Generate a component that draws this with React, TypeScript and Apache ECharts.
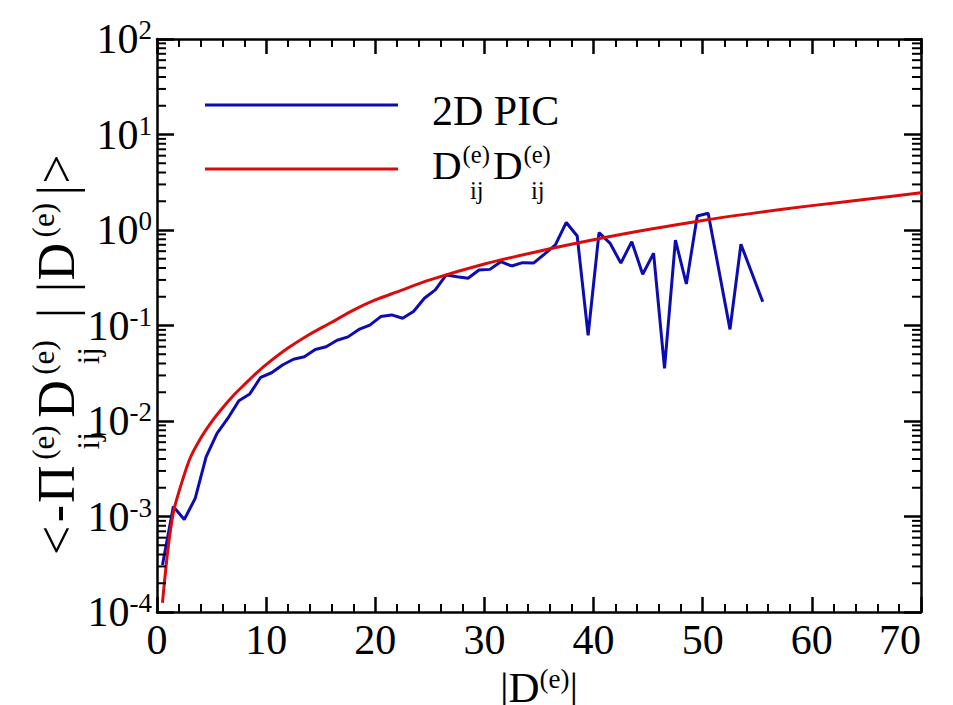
import React, { useEffect, useRef } from "react";
import * as echarts from "echarts";

// ---- data ----
const picX = [0.5, 1.5, 2.5, 3.5, 4.5, 5.5, 6.5, 7.5, 8.5, 9.5, 10.5, 11.5, 12.5, 13.5, 14.5, 15.5, 16.5, 17.5, 18.5, 19.5, 20.5, 21.5, 22.5, 23.5, 24.5, 25.5, 26.5, 27.5, 28.5, 29.5, 30.5, 31.5, 32.5, 33.5, 34.5, 35.5, 36.5, 37.5, 38.5, 39.5, 40.5, 41.5, 42.5, 43.5, 44.5, 45.5, 46.5, 47.5, 48.5, 49.5, 50.5, 52.5, 53.5, 55.5];
const picY = [3.1e-4, 1.27e-3, 9.3e-4, 1.55e-3, 4.2e-3, 7.4e-3, 0.0107, 0.0163, 0.0192, 0.0287, 0.032, 0.0386, 0.0443, 0.047, 0.056, 0.06, 0.07, 0.076, 0.091, 0.101, 0.124, 0.129, 0.119, 0.14, 0.193, 0.236, 0.338, 0.324, 0.312, 0.381, 0.387, 0.466, 0.42, 0.455, 0.45, 0.56, 0.7, 1.2, 0.865, 0.079, 0.94, 0.73, 0.45, 0.755, 0.344, 0.57, 0.0356, 0.785, 0.272, 1.4, 1.5, 0.091, 0.71, 0.177];

const modelX = [0.5, 1, 1.5, 2, 3, 4, 5, 6, 7, 8, 9, 10, 12, 14, 16, 18, 20, 22, 25, 30, 35, 40, 45, 50, 55, 60, 65, 70];
const modelY = [1.25e-4, 4.5e-4, 1.1e-3, 1.8e-3, 4.0e-3, 6.6e-3, 0.0098, 0.0137, 0.0185, 0.024, 0.031, 0.039, 0.058, 0.081, 0.108, 0.145, 0.185, 0.225, 0.3, 0.44, 0.6, 0.79, 1.01, 1.26, 1.52, 1.8, 2.1, 2.45];

const minorMultipliers = [2, 3, 4, 5, 6, 7, 8, 9];
const decades = [1e-4, 1e-3, 1e-2, 1e-1, 1, 10];

const X_MIN = 0, X_MAX = 70, X_STEP = 10;
const Y_MIN = 1e-4, Y_MAX = 100;

const BLUE = "#0c0cb0";
const RED = "#dc0a0a";
const FONT = '"Liberation Serif", "Times New Roman", serif';

const ctx2d = document.createElement("canvas").getContext("2d") as CanvasRenderingContext2D;
function tw(t: string, size: number) {
  ctx2d.font = `${size}px ${FONT}`;
  return ctx2d.measureText(t).width;
}
function txt(text: string, x: number, y: number, size: number, rotation = 0) {
  return {
    type: "text",
    x,
    y,
    rotation,
    silent: true,
    style: {
      text,
      fontSize: size,
      fontFamily: FONT,
      fill: "#000",
      textAlign: "left",
      align: "left",
      textVerticalAlign: "middle",
      verticalAlign: "middle",
    },
  };
}
type Seg = [string, string?, string?];
type Piece = { t: string; x: number; y: number; size: number };
function layoutRow(segs: Seg[], size: number, splitChars = false) {
  const small = size * 0.6;
  const supDy = -size * 0.25;
  const subDy = size * 0.62;
  const subDx = size * 0.18;
  const out: Piece[] = [];
  let x = 0;
  for (const [m, sup, sub] of segs) {
    if (m) {
      const parts = splitChars ? Array.from(m) : [m];
      for (const p of parts) {
        out.push({ t: p, x, y: 0, size });
        x += tw(p, size);
      }
      x += 1;
    }
    let adv = 0;
    if (sup) {
      out.push({ t: sup, x, y: supDy, size: small });
      adv = tw(sup, small);
    }
    if (sub) {
      out.push({ t: sub, x: x + subDx, y: subDy, size: small });
      adv = Math.max(adv, subDx + tw(sub, small));
    }
    if (adv) x += adv + 3;
  }
  return { pieces: out, width: x };
}

export default function App() {
  const ref = useRef<HTMLDivElement>(null);
  useEffect(() => {
    if (!ref.current) return;
    const chart = echarts.init(ref.current, undefined, { renderer: "svg" });

    const yMinor: number[][] = [];
    decades.forEach((d) => minorMultipliers.forEach((m) => yMinor.push([0, d * m])));

    // y-axis title, laid out along its own baseline then rotated to read bottom-to-top
    const yT = layoutRow(
      [["<-Π", "(e)", "ij"], ["D", "(e)", "ij"], [" | |D", "(e)"], ["|>"]],
      52,
      true
    );
    const k = 405 / yT.width;
    const yTitleEls = yT.pieces
      .filter((p) => p.t.trim() !== "")
      .map((p) => txt(p.t, 56 + p.y, 555 - p.x * k, p.size, Math.PI / 2));

    const leg2 = layoutRow([["D", "(e)", "ij"], ["D", "(e)", "ij"]], 41);
    const leg2Els = leg2.pieces.map((p) => txt(p.t, 432 + p.x, 165 + p.y, p.size));

    const axisLineStyle = { color: "#000", width: 2.5 };
    const xAxisBase = {
      type: "value",
      min: X_MIN,
      max: X_MAX,
      interval: X_STEP,
      axisLine: { show: true, onZero: false, lineStyle: axisLineStyle },
      axisTick: { show: true, inside: true, length: 15, lineStyle: { color: "#000", width: 2.5 } },
      minorTick: { show: true, splitNumber: 5, length: 8, lineStyle: { color: "#000", width: 2 } },
      splitLine: { show: false },
      minorSplitLine: { show: false },
    };
    const yAxisBase = {
      type: "log",
      logBase: 10,
      min: Y_MIN,
      max: Y_MAX,
      axisLine: { show: true, onZero: false, lineStyle: axisLineStyle },
      axisTick: { show: true, inside: true, length: 17, lineStyle: { color: "#000", width: 2.5 } },
      splitLine: { show: false },
    };

    chart.setOption({
      animation: false,
      backgroundColor: "#fff",
      grid: { left: 157, right: 32, top: 39, bottom: 93, containLabel: false, outerBoundsMode: "none" },
      xAxis: [
        {
          ...xAxisBase,
          position: "bottom",
          name: "{m||D}{s|(e)}{m||}",
          nameLocation: "middle",
          nameGap: 37,
          nameTextStyle: {
            rich: {
              m: { fontSize: 43, lineHeight: 43, fontFamily: FONT, color: "#000" },
              s: { fontSize: 27, lineHeight: 27, fontFamily: FONT, color: "#000", verticalAlign: "top" },
            },
          },
          axisLabel: {
            show: true,
            fontSize: 42,
            fontFamily: FONT,
            color: "#000",
            margin: 7,
            alignMaxLabel: "right",
          },
        },
        { ...xAxisBase, position: "top", axisLabel: { show: false } },
      ],
      yAxis: [
        {
          ...yAxisBase,
          position: "left",
          axisLabel: {
            show: true,
            margin: 5,
            formatter: (v: number) => `{b|10}{s|${Math.round(Math.log10(v))}}`,
            rich: {
              b: { fontSize: 42, fontFamily: FONT, color: "#000" },
              s: { fontSize: 27, fontFamily: FONT, color: "#000", verticalAlign: "top", padding: [0, 0, 18, 0] },
            },
          },
        },
        { ...yAxisBase, position: "right", axisLabel: { show: false } },
      ],
      series: [
        {
          name: "2D PIC",
          type: "line",
          data: picX.map((x, i) => [x, picY[i]]),
          showSymbol: false,
          lineStyle: { color: BLUE, width: 3 },
          itemStyle: { color: BLUE },
          z: 3,
        },
        {
          name: "model",
          type: "line",
          data: modelX.map((x, i) => [x, modelY[i]]),
          showSymbol: false,
          smooth: 0.3,
          lineStyle: { color: RED, width: 3 },
          itemStyle: { color: RED },
          z: 4,
        },
        {
          type: "custom",
          silent: true,
          data: yMinor,
          renderItem: (params: any, api: any) => {
            const cs = params.coordSys;
            const y = api.coord([0, api.value(1)])[1];
            const st = { stroke: "#000", lineWidth: 2 };
            return {
              type: "group",
              children: [
                { type: "line", shape: { x1: cs.x, y1: y, x2: cs.x + 9, y2: y }, style: st },
                { type: "line", shape: { x1: cs.x + cs.width - 9, y1: y, x2: cs.x + cs.width, y2: y }, style: st },
              ],
            };
          },
          z: 5,
        },
      ],
      graphic: [
        { type: "line", silent: true, shape: { x1: 205, y1: 105, x2: 398, y2: 105 }, style: { stroke: BLUE, lineWidth: 3 } },
        { type: "line", silent: true, shape: { x1: 205, y1: 169, x2: 398, y2: 169 }, style: { stroke: RED, lineWidth: 3 } },
        txt("2D PIC", 432, 111, 42),
        ...leg2Els,
        ...yTitleEls,
      ],
    });
    return () => chart.dispose();
  }, []);
  return (
    <div
      ref={ref}
      style={{ position: "fixed", left: 0, top: 0, width: 953, height: 705, background: "#fff" }}
    />
  );
}
